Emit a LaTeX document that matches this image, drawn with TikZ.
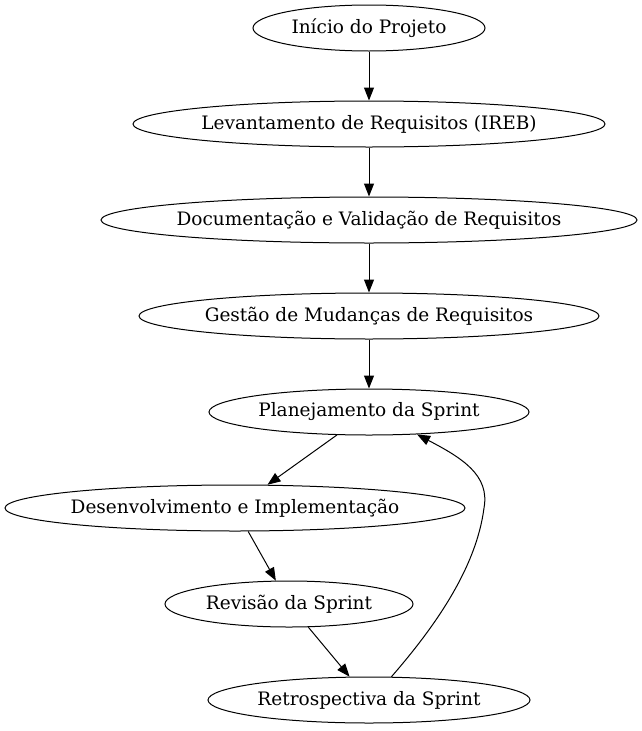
\documentclass[tikz,border=0pt]{standalone}
\usepackage{fontspec}
\setmainfont{DejaVu Serif}
\usepackage{tikz}
\usetikzlibrary{shapes.geometric,arrows.meta}
\tikzstyle{etapa} = [draw, ellipse, line width=1pt, inner sep=0pt, inner xsep=-6pt, minimum height=46pt, font=\fontsize{18.5}{22}\selectfont]
\tikzstyle{seta} = [line width=1pt, -{Triangle[length=13pt,width=10pt]}]

\begin{document}
\begin{tikzpicture}[x=1pt,y=-1pt]
	\useasboundingbox (0,0) rectangle (641,731);
	\node[etapa, minimum width=232pt](inicio) at (369,28) {Início do Projeto};
	\node[etapa, minimum width=472pt](levantamento) at (369,124) {Levantamento de Requisitos (IREB)};
	\node[etapa, minimum width=536pt](documentacao) at (369,220) {Documentação e Validação de Requisitos};
	\node[etapa, minimum width=460pt](gestao) at (369,316) {Gestão de Mudanças de Requisitos};
	\node[etapa, minimum width=320pt](planejamento) at (369,412) {Planejamento da Sprint};
	\node[etapa, minimum width=460pt](desenvolvimento) at (235,508) {Desenvolvimento e Implementação};
	\node[etapa, minimum width=248pt](revisao) at (289,604) {Revisão da Sprint};
	\node[etapa, minimum width=322pt](retrospectiva) at (369,700) {Retrospectiva da Sprint};
	\draw[seta] (inicio) -- (levantamento);
	\draw[seta] (levantamento) -- (documentacao);
	\draw[seta] (documentacao) -- (gestao);
	\draw[seta] (gestao) -- (planejamento);
	\draw[seta] (planejamento) -- (desenvolvimento);
	\draw[seta] (desenvolvimento) -- (revisao);
	\draw[seta] (revisao) -- (retrospectiva);
	\coordinate (volta) at (484,508);
	\draw[seta] (retrospectiva.46) .. controls (432,630) and (476,570) .. (volta)
		.. controls (490,475) and (462,458) .. (planejamento.-25);
\end{tikzpicture}
\end{document}
